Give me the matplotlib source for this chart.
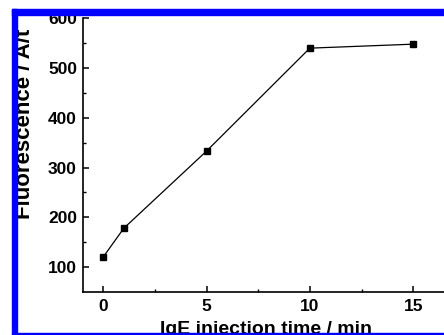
import numpy as np
import matplotlib
matplotlib.use('Agg')
import matplotlib.pyplot as plt
from matplotlib.patches import Rectangle

# datos
tiempo = [0, 1, 5, 10, 15]
fluorescencia = [120, 178, 333, 540, 548]
xticks = [0, 5, 10, 15]
yticks = [100, 200, 300, 400, 500, 600]

W, H = 444, 335
plt.rcParams['font.family'] = 'Liberation Sans'
plt.rcParams['font.weight'] = 'bold'

fig = plt.figure(figsize=(W / 100, H / 100), dpi=100)
ax = fig.add_axes([82.5 / W, (H - 291.9) / H, 372 / W, 273.6 / H])

ax.plot(tiempo, fluorescencia, '-', color='black', lw=0.9,
        marker='s', markersize=5, markerfacecolor='black', markeredgecolor='black')

ax.set_xlim(-1, 17)
ax.set_ylim(50, 600)
ax.set_xticks(xticks)
ax.set_yticks(yticks)
ax.set_xticks(np.arange(2.5, 16, 5), minor=True)
ax.set_yticks(np.arange(150, 600, 100), minor=True)
ax.tick_params(which='major', direction='in', length=4, width=1.1, labelsize=12.5, pad=4)
ax.tick_params(which='minor', direction='in', length=2, width=1.0)
ax.tick_params(axis='x', which='major', pad=5)
for s in ['top', 'right']:
    ax.spines[s].set_visible(False)
for s in ['left', 'bottom']:
    ax.spines[s].set_linewidth(1.2)
for lab in ax.get_xticklabels() + ax.get_yticklabels():
    lab.set_fontweight('bold')

# etiquetas de los ejes (recortadas en la imagen original)
fig.text(266 / W, 1 - 334 / H, 'IgE injection time / min', ha='center', va='baseline',
         fontsize=14, fontweight='bold')
fig.text(30 / W, 1 - 219 / H, 'Fluorescence / A/t', rotation=90, rotation_mode='anchor',
         ha='left', va='baseline', fontsize=16, fontweight='bold')

# marco azul
azul = (0, 0, 1)
fig.patches.append(Rectangle((12 / W, 0), 4.5 / W, 1 - 9 / H, transform=fig.transFigure,
                             color=azul, zorder=10))
fig.patches.append(Rectangle((12 / W, 1 - 14.5 / H), 1, 5.5 / H, transform=fig.transFigure,
                             color=azul, zorder=10))
fig.patches.append(Rectangle((12 / W, 1 - 334 / H), 1, 1.2 / H, transform=fig.transFigure,
                             color=azul, zorder=10))

fig.savefig('out.png', dpi=100)
